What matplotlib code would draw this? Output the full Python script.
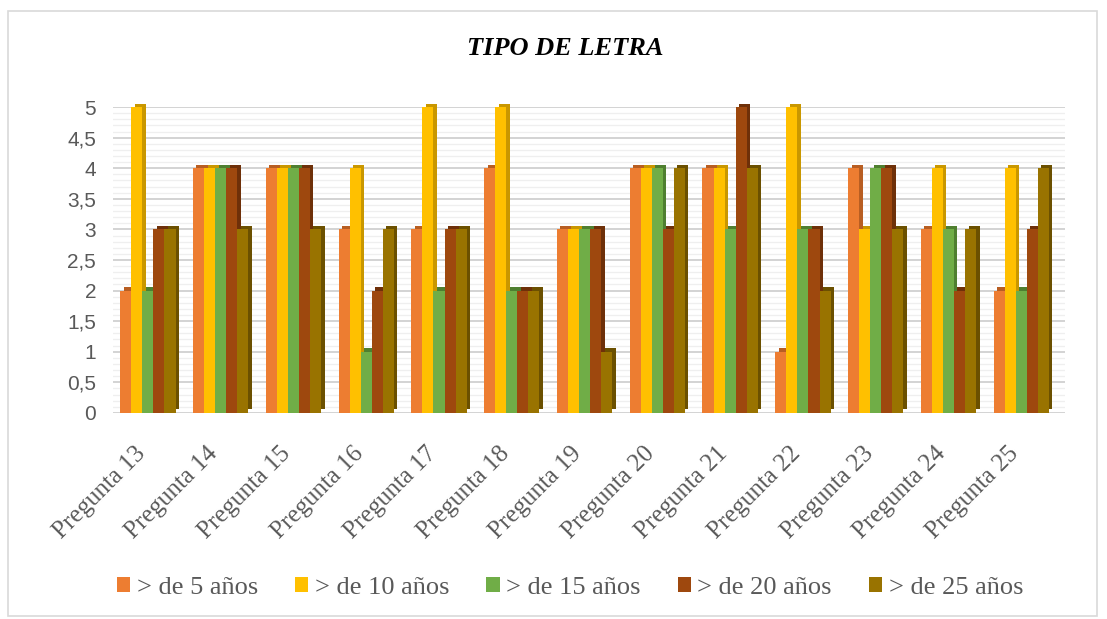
import numpy as np
import matplotlib
matplotlib.use("Agg")
import matplotlib.pyplot as plt
from matplotlib import patheffects as pe
from matplotlib.patches import Rectangle
from matplotlib.transforms import ScaledTranslation

# ----------------------------
# Data
# ----------------------------
preguntas = ["Pregunta 13", "Pregunta 14", "Pregunta 15", "Pregunta 16", "Pregunta 17",
             "Pregunta 18", "Pregunta 19", "Pregunta 20", "Pregunta 21", "Pregunta 22",
             "Pregunta 23", "Pregunta 24", "Pregunta 25"]
series_names = ["> de 5 años", "> de 10 años", "> de 15 años", "> de 20 años", "> de 25 años"]
mas_5 = [2, 4, 4, 3, 3, 4, 3, 4, 4, 1, 4, 3, 2]
mas_10 = [5, 4, 4, 4, 5, 5, 3, 4, 4, 5, 3, 4, 4]
mas_15 = [2, 4, 4, 1, 2, 2, 3, 4, 3, 3, 4, 3, 2]
mas_20 = [3, 4, 4, 2, 3, 2, 3, 3, 5, 3, 4, 2, 3]
mas_25 = [3, 3, 3, 3, 3, 2, 1, 4, 4, 2, 3, 3, 4]
y_ticks = [0, 0.5, 1, 1.5, 2, 2.5, 3, 3.5, 4, 4.5, 5]
y_tick_labels = ["0", "0,5", "1", "1,5", "2", "2,5", "3", "3,5", "4", "4,5", "5"]

colors = ["#ED7D31", "#FFC000", "#70AD47", "#9E480E", "#997300"]
side_colors = ["#B85E22", "#C99700", "#4F7F30", "#6E3009", "#6B5000"]

# ----------------------------
# Figure
# ----------------------------
fig = plt.figure(figsize=(11.07, 6.19), dpi=100)
fig.patches.append(Rectangle((8 / 1107, 0.005), 1089 / 1107, 0.978, transform=fig.transFigure,
                             fill=False, edgecolor="#D9D9D9", linewidth=1.2))

ax = fig.add_axes([0.102, 0.333, 0.86, 0.494])

x = np.arange(len(preguntas))
width = 0.152
all_series = [mas_5, mas_10, mas_15, mas_20, mas_25]
handles = []
for i, vals in enumerate(all_series):
    offs = (i - 2) * width
    bars = ax.bar(x + offs, vals, width=width, color=colors[i],
                  zorder=3, linewidth=0)
    for b in bars:
        b.set_clip_on(False)
        b.set_path_effects([pe.SimplePatchShadow(offset=(2.5, 2.5), shadow_rgbFace=side_colors[i],
                                                 alpha=1.0), pe.Normal()])
    handles.append(Rectangle((0, 0), 1, 1, facecolor=colors[i], linewidth=0))

ax.set_xlim(-0.48, 12.6)
ax.set_ylim(0, 5)
ax.set_yticks(y_ticks)
ax.set_yticklabels(y_tick_labels, fontsize=15, color="#595959", family="Liberation Sans")
ax.set_yticks(np.arange(0, 5.01, 0.1), minor=True)
ax.grid(axis="y", which="major", color="#D0D0D0", linewidth=1.3, zorder=0)
ax.grid(axis="y", which="minor", color="#EFEFEF", linewidth=0.9, zorder=0)
ax.tick_params(axis="y", which="both", length=0, pad=12)

ax.set_xticks(x)
ax.set_xticklabels(preguntas, rotation=45, ha="right", va="center", rotation_mode="anchor",
                   fontsize=18, color="#595959", family="Liberation Serif")
ax.tick_params(axis="x", length=0, pad=27)
shift = ScaledTranslation(-6 / 100, 0, fig.dpi_scale_trans)
for lab in ax.get_xticklabels():
    lab.set_transform(lab.get_transform() + shift)

for s in ax.spines.values():
    s.set_visible(False)

fig.text(0.511, 0.922, "TIPO DE LETRA", ha="center", va="center", fontsize=19,
         fontweight="bold", fontstyle="italic", family="Liberation Serif", color="black")

leg = fig.legend(handles, series_names, loc="center", bbox_to_anchor=(0.515, 0.05), ncol=5,
                 frameon=False, handlelength=0.5, handleheight=0.5, handletextpad=0.25,
                 columnspacing=1.4, prop={"family": "Liberation Serif", "size": 19})
for t in leg.get_texts():
    t.set_color("#595959")

fig.savefig("out.png", dpi=100)
